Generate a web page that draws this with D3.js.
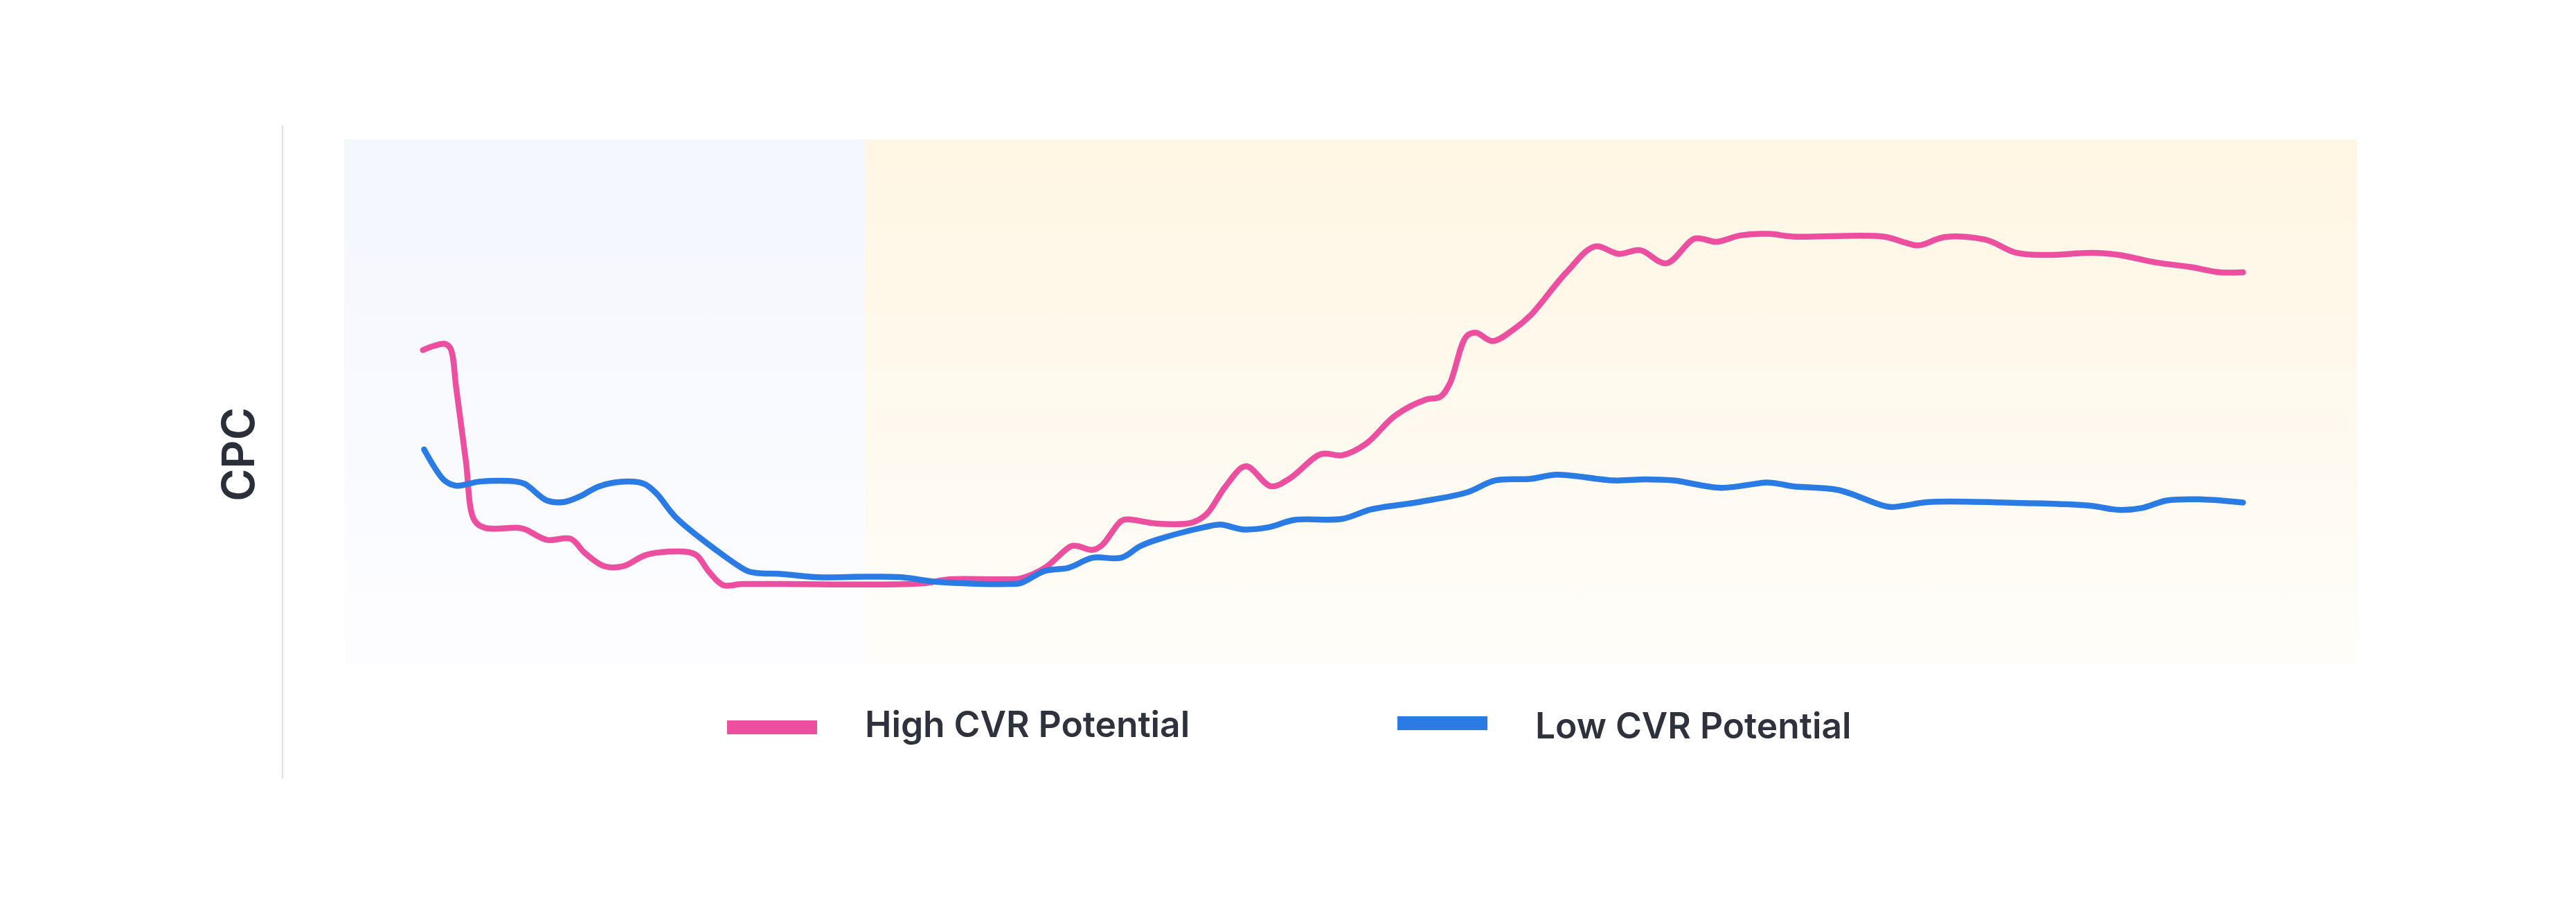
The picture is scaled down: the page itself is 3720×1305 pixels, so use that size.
<!DOCTYPE html>
<html lang="en">
<head>
    <meta charset="UTF-8">
    <title>CPC by CVR potential</title>
    <script src="https://d3js.org/d3.v7.min.js"></script>
    <style>
        body { margin: 0; background: #fff; }
        text { font-family: Inter, "Noto Sans", sans-serif; }
    </style>
</head>
<body>
    <div id="chart"></div>

    <script>
        // x = position along the timeline (0-100), y = CPC index (0-100)
        const highX = [3.91, 4.98, 5.27, 5.57, 6.04, 6.46, 6.99, 8.65, 9.0, 10.07, 11.26, 11.96, 12.91, 13.86,
            15.05, 17.06, 17.53, 18.13, 18.83, 19.78, 21.78, 28.64, 30.07, 32.44, 33.62, 34.81, 36.11, 36.46,
            37.18, 37.65, 38.6, 38.95, 40.35, 42.13, 42.84, 43.79, 44.79, 46.04, 46.98, 48.52, 49.59, 50.77,
            52.2, 53.74, 54.45, 54.92, 55.75, 56.22, 57.05, 58.12, 58.93, 60.7, 62.13, 63.31, 64.38, 65.68,
            67.1, 68.17, 69.35, 70.77, 71.96, 76.46, 77.5, 78.21, 79.51, 81.53, 83.07, 84.61, 86.86, 88.16,
            89.94, 91.72, 93.14, 94.33];
        const highCPC = [59.9, 61.1, 60.3, 52.6, 39.0, 27.6, 26.1, 26.1, 25.8, 23.8, 24.0, 21.3, 18.8, 18.8,
            21.0, 21.5, 20.8, 17.7, 15.2, 15.4, 15.4, 15.5, 16.3, 16.3, 16.5, 18.5, 22.6, 22.6,
            21.9, 22.8, 27.4, 27.7, 26.9, 27.1, 28.7, 34.0, 37.8, 34.0, 35.5, 40.1, 39.9, 42.1,
            47.4, 50.5, 51.0, 53.5, 62.5, 63.2, 61.6, 63.9, 66.5, 74.6, 79.6, 78.2, 78.9, 76.4,
            81.1, 80.5, 81.7, 82.0, 81.5, 81.5, 80.4, 79.8, 81.4, 80.9, 78.4, 78.0, 78.4, 78.0,
            76.6, 75.7, 74.7, 74.7];

        const lowX = [3.97, 4.98, 5.57, 6.75, 8.53, 9.0, 10.07, 10.9, 11.73, 12.68, 14.1, 14.93, 15.52, 16.47,
            18.36, 20.02, 20.5, 21.78, 23.55, 25.92, 27.69, 29.47, 33.02, 33.62, 34.81, 35.99, 37.18, 38.6,
            39.54, 40.35, 42.72, 43.55, 44.62, 45.92, 47.22, 49.59, 51.01, 53.38, 55.75, 57.17, 58.93, 60.23,
            63.07, 64.61, 66.03, 68.4, 70.77, 71.96, 74.21, 76.7, 77.5, 78.69, 83.43, 86.74, 88.16, 89.35,
            90.54, 92.31, 94.33];
        const lowCPC = [41.0, 35.1, 34.1, 34.9, 34.9, 34.4, 31.3, 31.0, 32.1, 34.0, 34.9, 34.4, 32.6, 28.1,
            22.2, 17.9, 17.5, 17.3, 16.7, 16.8, 16.7, 15.8, 15.4, 15.6, 17.9, 18.5, 20.4, 20.4,
            22.6, 23.8, 26.2, 26.7, 25.8, 26.2, 27.6, 27.8, 29.6, 31.0, 32.8, 35.1, 35.4, 36.2,
            35.1, 35.3, 35.1, 33.7, 34.7, 34.0, 33.3, 30.1, 30.3, 31.0, 30.8, 30.3, 29.5, 29.9,
            31.3, 31.5, 30.9];

        // background phases (x range in timeline units)
        const phaseStart = [0, 25.87];
        const phaseEnd = [25.87, 100];
        const phaseTop = ['#f3f6fd', '#fff6e3'];
        const phaseBottom = ['#fdfdff', '#fffdf9'];

        const seriesNames = ['High CVR Potential', 'Low CVR Potential'];
        const seriesColors = ['#ec4f9f', '#2b7be4'];

        const W = 3720, H = 1305;
        const plot = {left: 497, right: 3404, top: 201, bottom: 960};

        const svg = d3.select('#chart')
            .append('svg')
                .attr('width', W)
                .attr('height', H);

        const x = d3.scaleLinear()
            .domain([0, 100])
            .range([plot.left, plot.right]);
        const y = d3.scaleLinear()
            .domain([0, 100])
            .range([plot.bottom, plot.top]);

        // phase backgrounds with vertical gradients
        const defs = svg.append('defs');
        phaseStart.forEach((s, i) => {
            const g = defs.append('linearGradient')
                .attr('id', 'phase' + i)
                .attr('x1', 0).attr('y1', 0)
                .attr('x2', 0).attr('y2', 1);
            g.append('stop').attr('offset', '0%').attr('stop-color', phaseTop[i]);
            g.append('stop').attr('offset', '100%').attr('stop-color', phaseBottom[i]);
        });

        svg.append('g')
            .selectAll('rect')
            .data(phaseStart)
            .join('rect')
                .attr('x', d => x(d))
                .attr('y', y(100))
                .attr('width', (d, i) => x(phaseEnd[i]) - x(d))
                .attr('height', y(0) - y(100))
                .attr('fill', (d, i) => `url(#phase${i})`);

        // left axis line, no ticks
        svg.append('line')
            .attr('x1', 408).attr('x2', 408)
            .attr('y1', 181).attr('y2', 1124)
            .attr('stroke', '#e0e3f0')
            .attr('stroke-width', 2.5);

        svg.append('text')
            .attr('transform', 'translate(367, 656) rotate(-90)')
            .attr('text-anchor', 'middle')
            .attr('font-size', 64)
            .attr('font-weight', 600)
            .attr('fill', '#2a2f3a')
            .text('CPC');

        // lines
        const line = d3.line()
            .x(d => x(d[0]))
            .y(d => y(d[1]))
            .curve(d3.curveCatmullRom.alpha(0.5));

        const series = [
            d3.zip(highX, highCPC),
            d3.zip(lowX, lowCPC)
        ];

        svg.append('g')
            .selectAll('path')
            .data(series)
            .join('path')
                .attr('d', line)
                .attr('fill', 'none')
                .attr('stroke', (d, i) => seriesColors[i])
                .attr('stroke-width', 8.5)
                .attr('stroke-linecap', 'round')
                .attr('stroke-linejoin', 'round');

        // legend
        const legendX = [1050, 2018];
        const swatchY = [1040, 1034];
        const labelY = [1064, 1066];
        const legend = svg.append('g')
            .selectAll('g')
            .data(seriesNames)
            .join('g')
                .attr('transform', (d, i) => `translate(${legendX[i]}, 0)`);
        legend.append('rect')
            .attr('x', 0)
            .attr('y', (d, i) => swatchY[i])
            .attr('width', 130).attr('height', 20)
            .attr('fill', (d, i) => seriesColors[i]);
        legend.append('text')
            .attr('x', 199)
            .attr('y', (d, i) => labelY[i])
            .attr('font-size', 51.5)
            .attr('font-weight', 600)
            .attr('fill', '#2d323d')
            .text(d => d);
    </script>
</body>
</html>
